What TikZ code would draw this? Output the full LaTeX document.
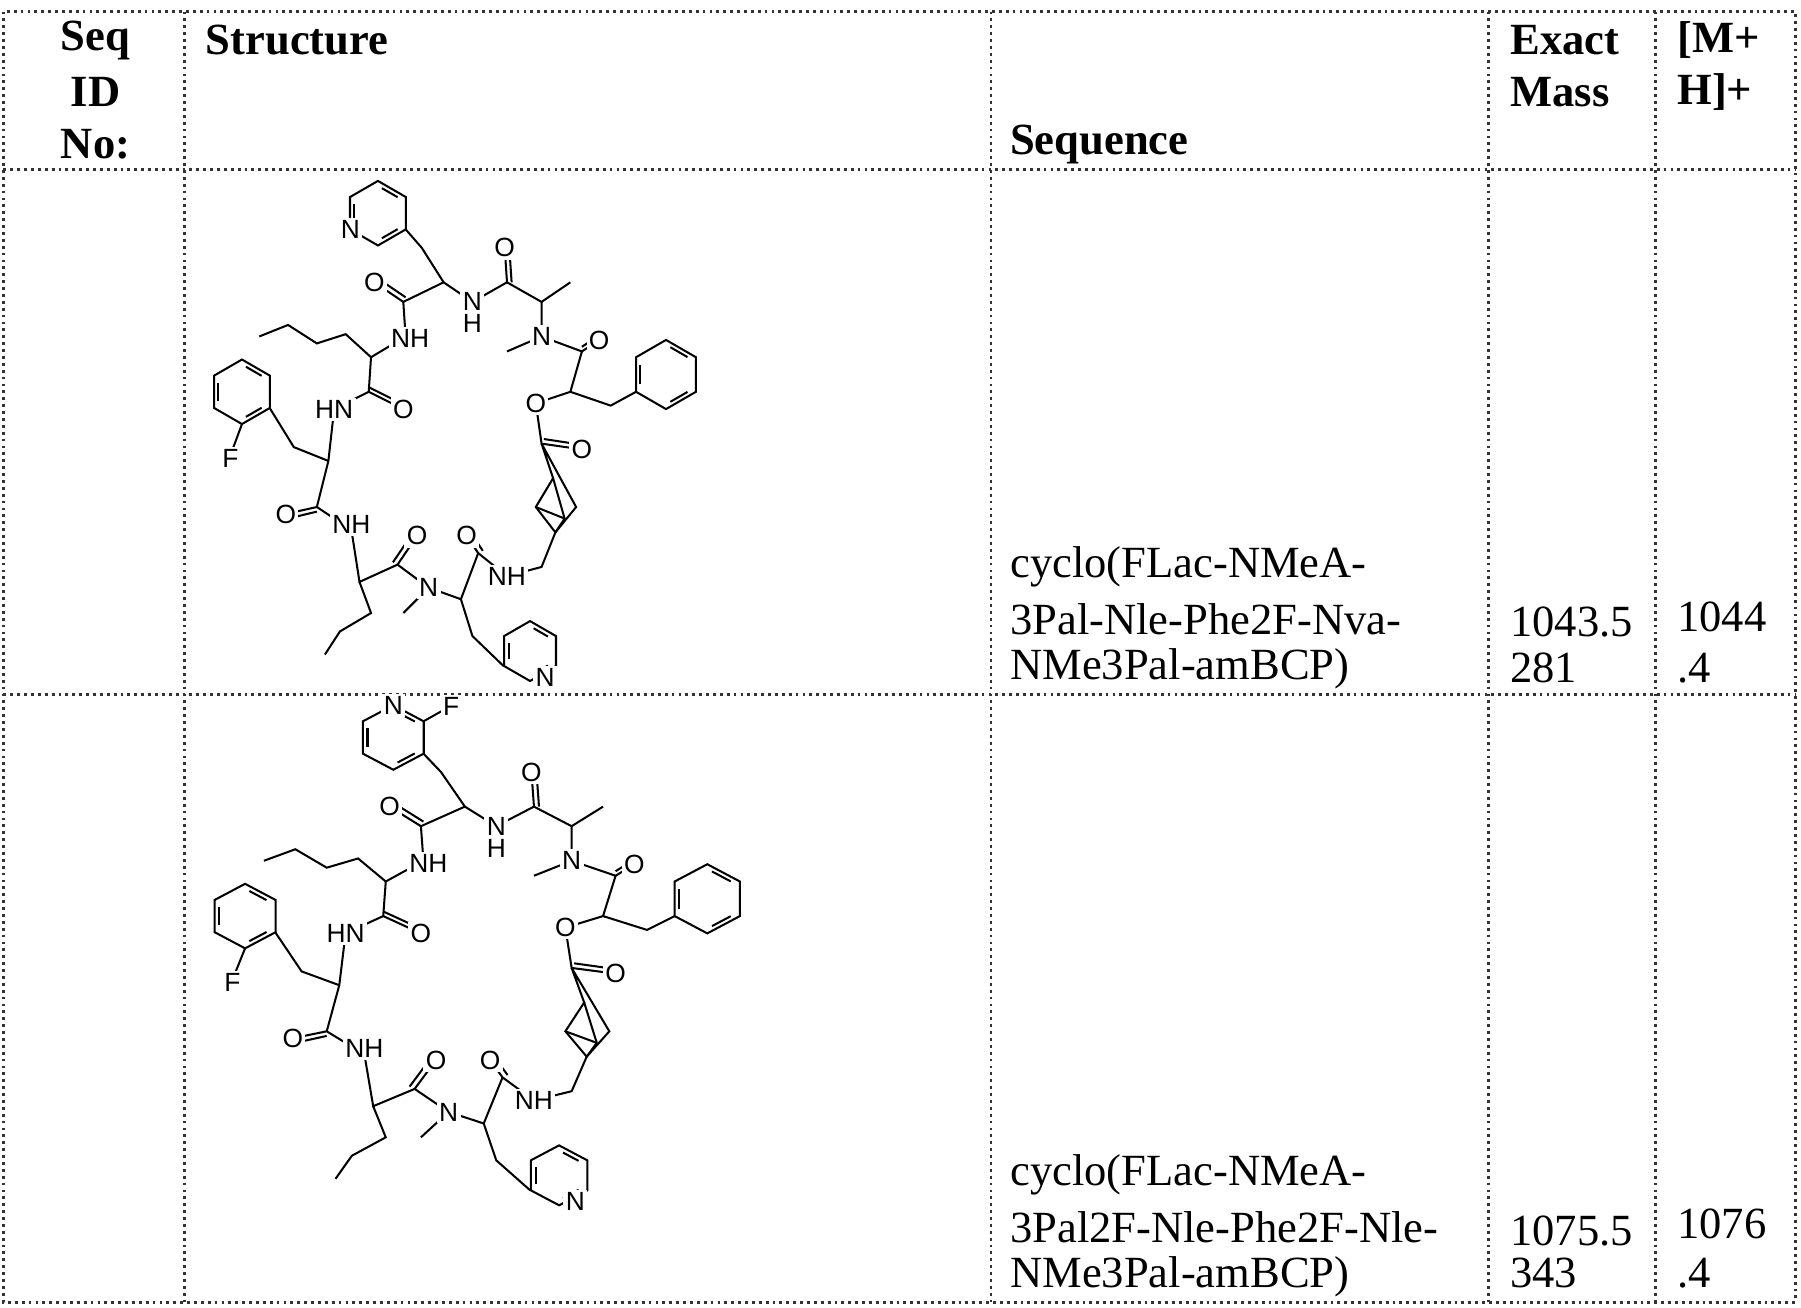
\documentclass[tikz,border=0pt]{standalone}
\usepackage{fontspec}
\setmainfont{Liberation Serif}
\newfontfamily\atomfont{Liberation Sans}
\newcommand\hexring[4]{\draw[bond] (#1,#2) +(30:#3) -- +(90:#3) -- +(150:#3) -- +(210:#3) -- +(270:#3) -- +(330:#3) -- cycle;
  \foreach \a in {30,150,270} \draw[bond] (#1,#2) +(\a+9:#4) -- +(\a+51:#4);}
\begin{document}
\begin{tikzpicture}[x=0.01cm,y=-0.01cm,
  grid/.style={densely dotted,line width=0.7pt,black!80},
  hdr/.style={font=\fontsize{11}{13}\selectfont\bfseries,anchor=west,inner sep=0pt},
  txt/.style={font=\fontsize{11}{13}\selectfont,anchor=west,inner sep=0pt},
  atom/.style={font=\atomfont\fontsize{6.5}{7}\selectfont,fill=white,inner sep=0.6pt},
  bond/.style={line width=0.5pt}]
\useasboundingbox (0,0) rectangle (1563,1135);
% grid
\draw[grid] (3,10) rectangle (1558,1130);
\foreach \x in {160,860,1292,1437} \draw[grid] (\x,10) -- (\x,1130);
\foreach \y in {147,603} \draw[grid] (3,\y) -- (1558,\y);
% header
\node[hdr,anchor=center] (h1) at (83,35) {Seq};
\node[hdr,anchor=center] (h2) at (83,80) {ID};
\node[hdr,anchor=center] (h3) at (83,125) {No:};
\node[hdr] (h4) at (178,35) {Structure};
\node[hdr] (h5) at (876,125) {Sequence};
\node[hdr] (h6) at (1310,35) {Exact};
\node[hdr] (h7) at (1310,80) {Mass};
\node[hdr] (h8) at (1455,35) {[M+};
\node[hdr] (h9) at (1455,80) {H]+};
% row 1
\node[txt] (a1) at (876,492) {cyclo(FLac-NMeA-};
\node[txt] (a2) at (876,537) {3Pal-Nle-Phe2F-Nva-};
\node[txt] (a3) at (876,580) {NMe3Pal-amBCP)};
\node[txt] (a4) at (1310,540) {1043.5};
\node[txt] (a5) at (1310,580) {281};
\node[txt] (a6) at (1455,535) {1044};
\node[txt] (a7) at (1455,580) {.4};
% row 2
\node[txt] (b1) at (876,1020) {cyclo(FLac-NMeA-};
\node[txt] (b2) at (876,1065) {3Pal2F-Nle-Phe2F-Nle-};
\node[txt] (b3) at (876,1108) {NMe3Pal-amBCP)};
\node[txt] (b4) at (1310,1068) {1075.5};
\node[txt] (b5) at (1310,1105) {343};
\node[txt] (b6) at (1455,1062) {1076};
\node[txt] (b7) at (1455,1105) {.4};
% structures
\foreach \dy/\xs/\two in {0/1/0,455/1.09/1}{
\begin{scope}[yshift=-\dy*0.01cm,xshift=-180*(\xs-1)*0.01cm,xscale=\xs]
\hexring{328}{185}{28}{22}
\draw[bond] (352,199) -- (366,215) -- (385,245) -- (350,262) -- (325,245);
\draw[bond] (352,258) -- (327,241);
\draw[bond] (350,262) -- (352,292) -- (322,310) -- (300,290) -- (275,298) -- (250,282) -- (225,292);
\draw[bond] (385,245) -- (410,262) -- (440,245) -- (438,215);
\draw[bond] (444,245) -- (442,215);
\draw[bond] (440,245) -- (470,262) -- (495,245);
\draw[bond] (470,262) -- (470,292) -- (440,305);
\draw[bond] (470,292) -- (505,305) -- (520,295);
\draw[bond] (505,301) -- (520,291);
\draw[bond] (505,305) -- (495,340) -- (465,350);
\draw[bond] (495,340) -- (530,352) -- (552,340);
\hexring{578}{325}{30}{24}
\draw[bond] (465,350) -- (470,385) -- (505,390);
\draw[bond] (472,381) -- (505,386);
\draw[bond] (470,385) -- (480,415) -- (465,440) -- (482,462) -- (500,440) -- cycle;
\draw[bond] (480,415) -- (490,450) -- (482,462);
\draw[bond] (465,440) -- (490,450);
\draw[bond] (482,462) -- (470,492) -- (440,500) -- (415,480) -- (405,465);
\draw[bond] (419,478) -- (409,463);
\draw[bond] (415,480) -- (400,520) -- (372,510) -- (350,532);
\draw[bond] (400,520) -- (410,552) -- (437,578);
\hexring{460}{565}{26}{20}
\draw[bond] (372,510) -- (345,490) -- (362,465);
\draw[bond] (341,488) -- (358,463);
\draw[bond] (345,490) -- (312,505) -- (305,460);
\draw[bond] (312,505) -- (322,532) -- (295,548) -- (282,568);
\draw[bond] (305,460) -- (275,440) -- (248,446);
\draw[bond] (275,444) -- (250,450);
\draw[bond] (275,440) -- (285,400) -- (290,355);
\draw[bond] (285,400) -- (255,388) -- (234,354);
\hexring{210}{340}{28}{22}
\draw[bond] (210,368) -- (200,395);
\draw[bond] (290,355) -- (320,340) -- (350,355);
\draw[bond] (320,336) -- (350,351);
\draw[bond] (320,340) -- (322,310);
\node[atom] at (325,245) {O};
\node[atom] at (356,294) {NH};
\node[atom] at (410,262) {N};
\node[atom] at (410,281) {H};
\node[atom] at (438,215) {O};
\node[atom] at (470,292) {N};
\node[atom] at (520,295) {O};
\node[atom] at (465,350) {O};
\node[atom] at (505,390) {O};
\node[atom] at (440,500) {NH};
\node[atom] at (405,465) {O};
\node[atom] at (372,510) {N};
\node[atom] at (362,465) {O};
\node[atom] at (305,455) {NH};
\node[atom] at (248,446) {O};
\node[atom] at (290,355) {HN};
\node[atom] at (350,355) {O};
\node[atom] at (200,398) {F};
\node[atom] at (473,588) {N};
\ifnum\two=0 \node[atom] at (304,199) {N};
\else \node[atom] at (328,157) {N}; \draw[bond] (352,171) -- (370,160); \node[atom] at (374,158) {F}; \fi
\end{scope}}
\end{tikzpicture}
\end{document}
